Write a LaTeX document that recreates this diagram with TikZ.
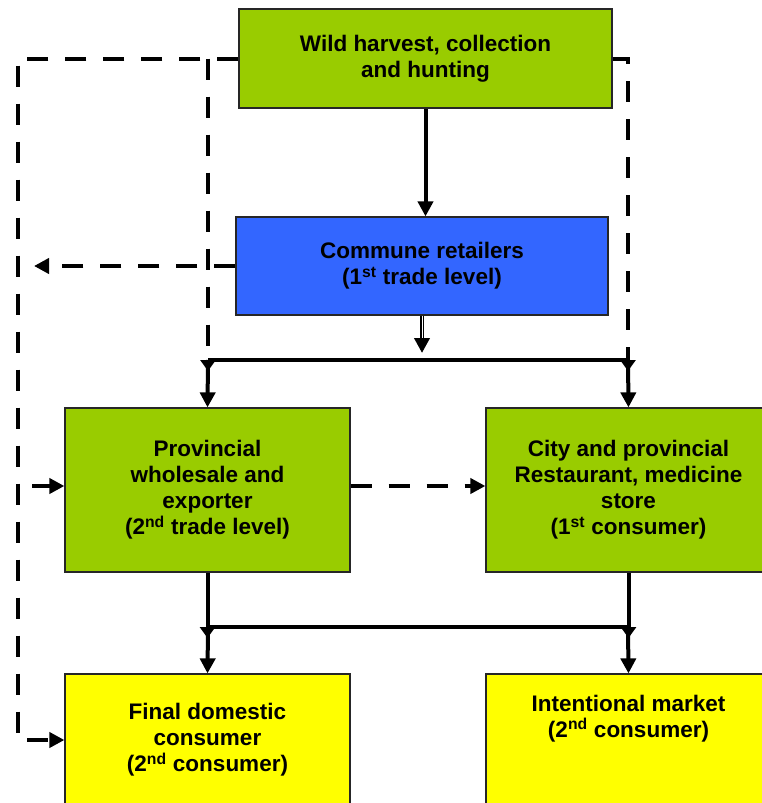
\documentclass[tikz,border=0pt]{standalone}
\usepackage{fontspec}
\setmainfont{Liberation Sans}
\usetikzlibrary{arrows.meta}
\definecolor{leaf}{HTML}{99CC00}
\definecolor{sky}{HTML}{3366FF}
\definecolor{lemon}{HTML}{FFFF00}

\begin{document}
\begin{tikzpicture}[x=1pt,y=-1pt,
    font=\bfseries\fontsize{22.5}{26}\selectfont,
    stage/.style={draw=black!85,line width=1.2pt,align=center,inner sep=0pt},
    flow/.style={line width=4pt,-{Triangle[length=15pt,width=15pt]}},
    feed/.style={flow,dash pattern=on 21pt off 17pt},
    tee/.style={-{Triangle[length=11pt,width=15pt]},shorten >=-11pt}]
    \useasboundingbox (0,0) rectangle (761,803);
    % boxes
    \node [stage,fill=leaf,minimum width=373pt,minimum height=99pt] (wild) at (425.5,58.5)
          {Wild harvest, collection\\and hunting};
    \node [stage,fill=sky,minimum width=372pt,minimum height=98pt] (commune) at (422,266)
          {Commune retailers\\(1\textsuperscript{st} trade level)};
    \node [stage,fill=leaf,minimum width=285pt,minimum height=164pt] (province) at (207.5,490)
          {Provincial\\wholesale and\\exporter\\(2\textsuperscript{nd} trade level)};
    \node [stage,fill=leaf,minimum width=285pt,minimum height=164pt] (city) at (628.5,490)
          {City and provincial\\Restaurant, medicine\\store\\(1\textsuperscript{st} consumer)};
    \node [stage,fill=lemon,minimum width=285pt,minimum height=132pt] (domestic) at (207.5,740)
          {Final domestic\\consumer\\(2\textsuperscript{nd} consumer)};
    \node [stage,fill=lemon,minimum width=285pt,minimum height=132pt] (intl) at (628.5,740)
          {\parbox[c][90pt][t]{260pt}{\centering Intentional market\\(2\textsuperscript{nd} consumer)}};
    % bus coordinates
    \coordinate (busA) at (208,360); % upper bus, left
    \coordinate (busB) at (628,360); % upper bus, right
    \coordinate (busC) at (208,627); % lower bus, left
    \coordinate (busD) at (628,627); % lower bus, right
    \coordinate (rail) at (17.5,58.5); % left dashed rail
    \coordinate (railTip) at (34,266); % end of commune side arrow
    % solid flows
    \draw [flow] (wild.south) -- (wild.south |- commune.north);
    \draw [flow,shorten >=7pt] (commune.south) -- (commune.south |- busA);
    \draw [white,line width=1pt,shorten >=22pt] (commune.south) -- (commune.south |- busA); % double shaft
    \draw [line width=4pt] (busA) -- (busB); % upper bus
    \draw [flow] (busA) -- (province.north);
    \draw [flow] (busB) -- (city.north);
    \draw [flow,tee] (province.south) -- (province.south |- busC);
    \draw [flow,tee] (city.south) -- (city.south |- busD);
    \draw [line width=4pt] (busC) -- (busD); % lower bus
    \draw [flow] (busC) -- (domestic.north);
    \draw [flow] (busD) -- (intl.north);
    % dashed flows
    \draw [feed] (wild.west) -- (rail) |- (domestic.west);
    \draw [feed,tee] (wild.west -| busA) -- (busA);
    \draw [feed,tee] (wild.east) -| (busB);
    \draw [feed] (commune.west) -- (railTip);
    \draw [feed,dash phase=23.5pt] ([yshift=4pt]province.west -| rail) -- ([yshift=4pt]province.west);
    \draw [feed] ([yshift=4pt]province.east) -- ([yshift=4pt]city.west);
\end{tikzpicture}
\end{document}
